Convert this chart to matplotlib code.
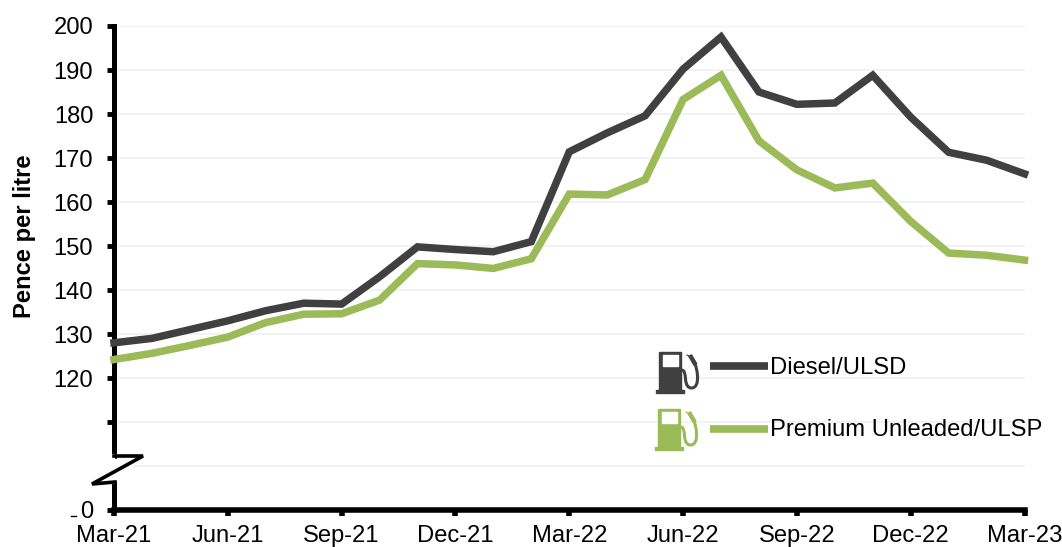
import matplotlib
matplotlib.use('Agg')
import matplotlib.pyplot as plt
from matplotlib.patches import Rectangle, PathPatch
from matplotlib.path import Path

plt.rcParams['font.family'] = ['Liberation Sans', 'DejaVu Sans']

months = ['Mar-21', 'Apr-21', 'May-21', 'Jun-21', 'Jul-21', 'Aug-21', 'Sep-21', 'Oct-21', 'Nov-21',
          'Dec-21', 'Jan-22', 'Feb-22', 'Mar-22', 'Apr-22', 'May-22', 'Jun-22', 'Jul-22', 'Aug-22',
          'Sep-22', 'Oct-22', 'Nov-22', 'Dec-22', 'Jan-23', 'Feb-23', 'Mar-23']
diesel = [128.0, 129.0, 131.0, 133.0, 135.3, 137.0, 136.8, 143.0, 149.8, 149.2, 148.7, 151.0, 171.4,
          175.7, 179.6, 190.2, 197.5, 185.0, 182.2, 182.5, 188.8, 179.3, 171.3, 169.5, 166.4]
premium = [124.2, 125.6, 127.4, 129.3, 132.6, 134.5, 134.6, 137.7, 146.0, 145.7, 144.9, 147.1, 161.8,
           161.6, 165.1, 183.3, 188.8, 173.9, 167.3, 163.2, 164.3, 155.6, 148.4, 147.9, 146.8]
y_ticks = [90, 100, 110, 120, 130, 140, 150, 160, 170, 180, 190, 200]
y_labels = ['0', '', '', '120', '130', '140', '150', '160', '170', '180', '190', '200']

DARK = '#404040'
GREEN = '#9BBB59'
W, H = 1062, 547
FS = 17.1

fig = plt.figure(figsize=(W / 100, H / 100), dpi=100)
ax = fig.add_axes([114 / W, 1 - 510 / H, (1024.5 - 114) / W, (510 - 26) / H])

x = list(range(len(months)))
ax.plot(x, diesel, color=DARK, lw=5.4, solid_joinstyle='miter', solid_capstyle='projecting',
        clip_on=False, zorder=3)
ax.plot(x, premium, color=GREEN, lw=5.4, solid_joinstyle='miter', solid_capstyle='projecting',
        clip_on=False, zorder=3)

ax.set_xlim(0, len(months) - 1)
ax.set_ylim(90, 200)
ax.set_yticks(y_ticks)
ax.set_yticklabels(y_labels)
ax.set_xticks(x[::3])
ax.set_xticklabels(months[::3])
ax.tick_params(axis='y', labelsize=FS, length=5, width=3.5, pad=10)
ax.tick_params(axis='x', labelsize=FS, length=4.5, width=4, pad=6.5)
ax.grid(axis='y', color='#F2F2F2', lw=1.4, zorder=0)
ax.set_axisbelow(True)
for s in ['top', 'right']:
    ax.spines[s].set_visible(False)
ax.spines['left'].set_linewidth(3.6)
ax.spines['bottom'].set_linewidth(4)
ax.set_ylabel('Pence per litre', fontsize=FS, fontweight='bold')
ax.yaxis.set_label_coords((36 - 114) / (1024.5 - 114), 0.566)

# overlay in pixel coordinates for the axis break, the pumps and the legend
ov = fig.add_axes([0, 0, 1, 1])
ov.set_xlim(0, W)
ov.set_ylim(H, 0)
ov.axis('off')
ov.patch.set_alpha(0)

ov.add_patch(Rectangle((100, 459), 32, 22, color='white', zorder=4))
ov.plot([113, 113], [456, 482], color='white', lw=3, zorder=4)
ov.plot([114, 143, 92, 115], [456, 456, 484, 482], color='black', lw=2.6,
        solid_joinstyle='miter', zorder=5)
ov.plot([71, 76], [516, 516], color='black', lw=1)


def pump(x0, y0, color):
    ov.add_patch(Rectangle((x0, y0), 22, 38, color=color, zorder=5))
    ov.add_patch(Rectangle((x0 + 4, y0 + 3), 15, 11, color='white', zorder=6))
    ov.add_patch(Rectangle((x0 - 3, y0 + 38), 28, 2.7, color=color, zorder=5))
    hose = Path([(x0 + 22, y0 + 18), (x0 + 26, y0 + 18), (x0 + 26, y0 + 22), (x0 + 26.5, y0 + 27),
                 (x0 + 27, y0 + 33), (x0 + 29, y0 + 36), (x0 + 32.5, y0 + 36),
                 (x0 + 37, y0 + 36), (x0 + 39, y0 + 31), (x0 + 38.5, y0 + 24),
                 (x0 + 38, y0 + 18), (x0 + 37, y0 + 13), (x0 + 34.5, y0 + 9)],
                [Path.MOVETO] + [Path.CURVE4] * 12)
    ov.add_patch(PathPatch(hose, fc='none', ec=color, lw=2.2, zorder=5))
    ov.plot([x0 + 32, x0 + 35.5], [y0 + 5, y0 + 11], color=color, lw=3.2, zorder=5)
    ov.plot([x0 + 28, x0 + 32], [y0 + 3, y0 + 5], color=color, lw=0.8, zorder=5)


pump(659, 352, DARK)
pump(658, 409, GREEN)

ov.plot([710, 768], [366, 366], color=DARK, lw=5.5, solid_capstyle='butt', zorder=5)
ov.plot([710, 768], [429, 429], color=GREEN, lw=5.5, solid_capstyle='butt', zorder=5)
ov.text(770, 367.5, 'Diesel/ULSD', fontsize=FS, va='center', ha='left', zorder=6)
ov.text(770, 430.5, 'Premium Unleaded/ULSP', fontsize=FS, va='center', ha='left', zorder=6)

fig.savefig('out.png', dpi=100)
